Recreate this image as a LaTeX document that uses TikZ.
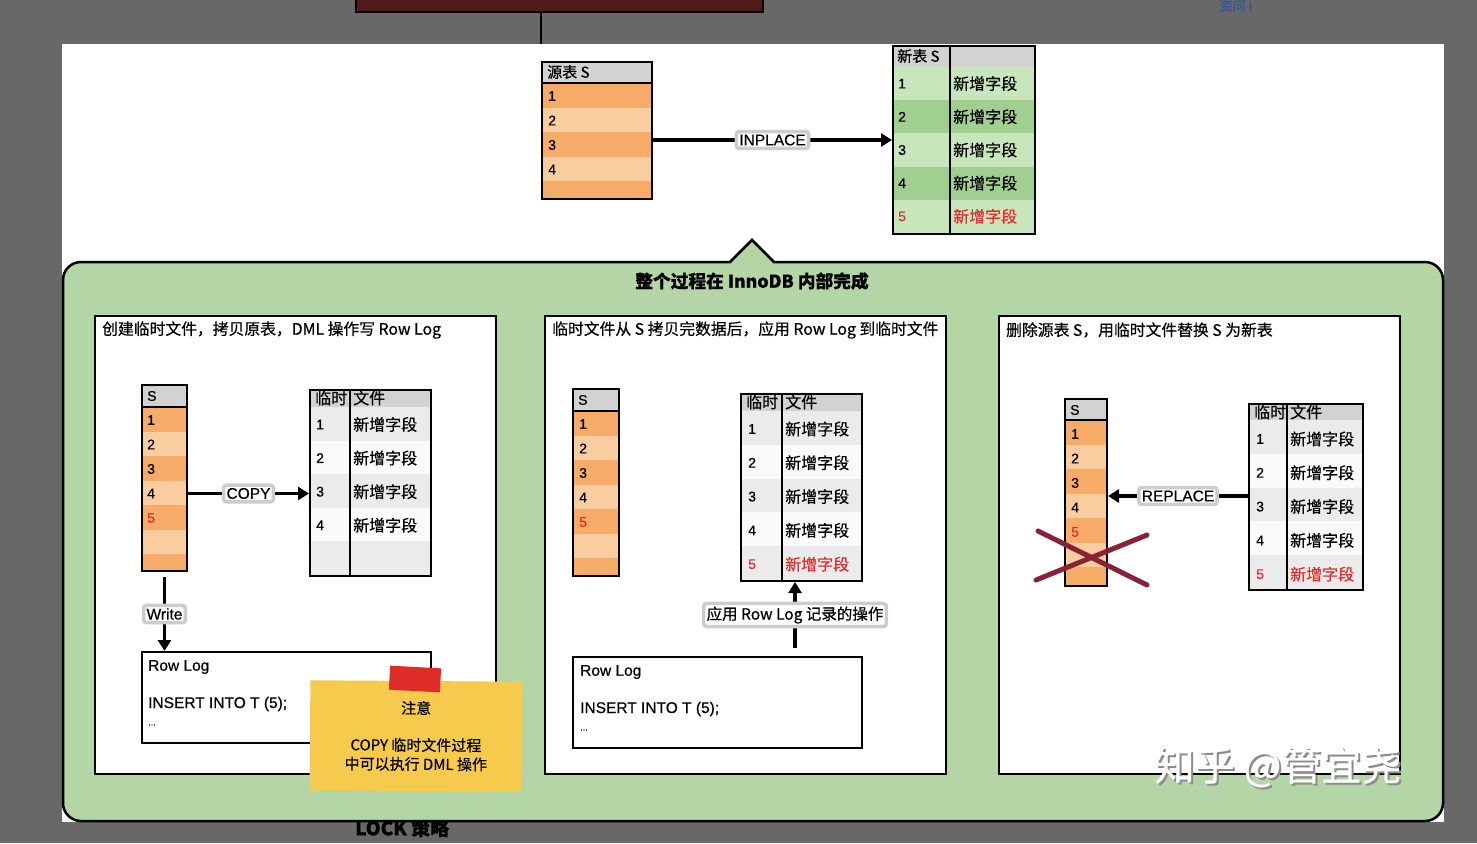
\documentclass[tikz,border=0pt]{standalone}
\usepackage{fontspec}
\setmainfont{Noto Sans CJK SC}[FakeBold=0.5]
\newfontfamily\latinfont{Liberation Sans}[FakeBold=0.5]
\usetikzlibrary{arrows.meta,positioning,calc}

\definecolor{bggrey}{RGB}{104,104,104}
\definecolor{ordk}{RGB}{246,172,104}
\definecolor{orlt}{RGB}{249,205,160}
\definecolor{hdgrey}{RGB}{210,210,210}
\definecolor{gnlt}{RGB}{200,230,188}
\definecolor{gndk}{RGB}{160,207,143}
\definecolor{panelgn}{RGB}{180,214,166}
\definecolor{rowgrey}{RGB}{235,235,235}
\definecolor{rowwhite}{RGB}{250,250,250}
\definecolor{noteyel}{RGB}{246,202,76}
\definecolor{tapered}{RGB}{222,45,40}
\definecolor{crossred}{RGB}{135,35,55}
\definecolor{darkred}{RGB}{82,26,26}
\definecolor{newred}{RGB}{225,45,45}
\definecolor{linkblue}{RGB}{45,85,165}

\begin{document}
\begin{tikzpicture}[x=1pt, y=-1pt,
  tbl/.style={draw, line width=2pt, anchor=north west, inner sep=0pt},
  cell/.style={anchor=west, inner sep=0pt, font=\latinfont\fontsize{14}{16}\selectfont},
  field/.style={anchor=west, inner sep=0pt, font=\fontsize{16}{18}\selectfont},
  tag/.style={draw=black!20, fill=white, rounded corners=3pt, inner sep=3pt, font=\latinfont\fontsize{15.5}{17}\selectfont},
  tagcjk/.style={tag, font=\fontsize{15.5}{17}\selectfont},
  stage/.style={draw, line width=2pt, fill=white, anchor=north west, inner sep=0pt, minimum width=401, minimum height=458},
  stagetitle/.style={anchor=west, inner sep=0pt, font=\fontsize{15.8}{17}\selectfont},
  logbox/.style={draw, line width=2pt, fill=white, anchor=north west, inner sep=0pt, minimum width=289, minimum height=91},
  logtext/.style={anchor=west, inner sep=0pt, font=\latinfont\fontsize{15.5}{17}\selectfont},
  bigarrow/.style={line width=3.5pt, -{Triangle[length=11pt,width=13pt]}},
]
\useasboundingbox (0,0) rectangle (1477,843);
% 截图背景
\fill[bggrey] (0,0) rectangle (1477,843);
\node[anchor=west, inner sep=0pt, font=\bfseries\fontsize{19}{21}\selectfont] (lock) at (355,828) {LOCK 策略};
\node[inner sep=0pt, text=linkblue, font=\fontsize{13}{15}\selectfont] (ask) at (1236,6) {资问 I};
\fill[white] (62,44) rectangle (1444,822);
\node[draw, line width=1.5pt, fill=darkred, anchor=south west, minimum width=407, minimum height=30, inner sep=0pt] (topbox) at (355,13) {};
\coordinate (topend) at (541,44);
\draw[line width=2.5pt] (topbox.south -| topend) -- (topend);

% 源表 S
\fill[ordk] (541,83) rectangle (651,198);
\foreach \r in {1,3} \fill[orlt] (541,{83+24.5*\r}) rectangle (651,{83+24.5*(\r+1)});
\fill[hdgrey] (541,61) rectangle (651,83);
\draw[line width=1.5pt] (541,83) -- (651,83);
\node[tbl, minimum width=110, minimum height=137] (srcS) at (541,61) {};
\node[field, font=\fontsize{15}{17}\selectfont] at (547,72) {源表 S};
\foreach \n in {1,...,4} \node[cell] (srcS-\n) at (548,{96+24.5*(\n-1)}) {\n};

% 新表 S
\foreach \r/\c in {0/gnlt,1/gndk,2/gnlt,3/gndk,4/gnlt} \fill[\c] (892,{67+33.2*\r}) rectangle (1034,{67+33.2*(\r+1)});
\fill[hdgrey] (892,45) rectangle (1034,67);
\node[tbl, minimum width=142, minimum height=188] (newS) at (892,45) {};
\draw[line width=2pt] (950,45) -- (950,233);
\node[field, font=\fontsize{15}{17}\selectfont] at (897,56) {新表 S};
\foreach \n/\c in {1/black,2/black,3/black,4/black,5/newred} {
  \node[cell, text=\c] (newS-\n) at (898,{83.6+33.2*(\n-1)}) {\n};
  \node[field, text=\c] at (953,{83.6+33.2*(\n-1)}) {新增字段};
}
\draw[bigarrow] (srcS.east |- newS.west) -- node[tag] {INPLACE} (newS.west);

% InnoDB 内部
\draw[line width=2.5pt, fill=panelgn, rounded corners=18pt] (63,500) -- (63,262) -- (600,262) [sharp corners] -- (730,262) -- (752,240) -- (774,262) -- (900,262) [rounded corners=18pt] -- (1443,262) -- (1443,821) -- (63,821) -- cycle;
\node[font=\bfseries\fontsize{17.7}{19}\selectfont] (title) at (752,281) {整个过程在 InnoDB 内部完成};

% 阶段一
\node[stage] (stageA) at (94,315) {};
\node[stagetitle] at ($(stageA.north west)+(8,15)$) {创建临时文件，拷贝原表，DML 操作写 Row Log};
\fill[ordk] (141,407) rectangle (186,570);
\foreach \r in {1,3,5} \fill[orlt] (141,{407+24.5*\r}) rectangle (186,{407+24.5*(\r+1)});
\fill[hdgrey] (141,384) rectangle (186,407);
\draw[line width=1.5pt] (141,407) -- (186,407);
\node[tbl, minimum width=45, minimum height=186] (sA) at (141,384) {};
\node[cell] at (147,396) {S};
\foreach \n/\c in {1/black,2/black,3/black,4/black,5/newred} \node[cell, text=\c] (sA-\n) at (147,{420+24.5*(\n-1)}) {\n};
\fill[rowgrey] (309,407) rectangle (430,575);
\foreach \r in {1,3} \fill[rowwhite] (309,{407+33.6*\r}) rectangle (430,{407+33.6*(\r+1)});
\fill[hdgrey] (309,389) rectangle (430,407);
\node[tbl, minimum width=121, minimum height=186] (tA) at (309,389) {};
\draw[line width=2pt] (350,389) -- (350,575);
\node[field] at (315,398) {临时};
\node[field] at (353,398) {文件};
\foreach \n in {1,...,4} {
  \node[cell] (tA-\n) at (316,{424.5+33.6*(\n-1)}) {\n};
  \node[field] at (353,{424.5+33.6*(\n-1)}) {新增字段};
}
\draw[bigarrow] (sA.east |- sA-4) -- node[tag] {COPY} (tA.west |- sA-4);
\node[logbox] (logA) at (141,651) {};
\node[logtext] at ($(logA.north west)+(7,16)$) {Row Log};
\node[logtext] at ($(logA.north west)+(7,53)$) {INSERT INTO T (5);};
\node[logtext, font=\latinfont\fontsize{9}{10}\selectfont] at ($(logA.north west)+(7,74)$) {...};
\draw[bigarrow] ([yshift=-5pt]sA.south) -- node[tag] {Write} (logA.north -| sA.south);
% 注意便签
\node[fill=noteyel, rotate=-0.4, minimum width=212, minimum height=110, inner sep=0pt, align=center, font=\fontsize{15}{19}\selectfont] (noteA) at (416,736) {注意\\[18pt]COPY 临时文件过程\\中可以执行 DML 操作};
\node[fill=tapered, rotate=-3, minimum width=51, minimum height=24, inner sep=0pt] (tapeA) at (415,679) {};

% 阶段二
\node[stage] (stageB) at (544,315) {};
\node[stagetitle] at ($(stageB.north west)+(8,15)$) {临时文件从 S 拷贝完数据后，应用 Row Log 到临时文件};
\fill[ordk] (572,411) rectangle (618,575);
\foreach \r in {1,3,5} \fill[orlt] (572,{411+24.5*\r}) rectangle (618,{411+24.5*(\r+1)});
\fill[hdgrey] (572,388) rectangle (618,411);
\draw[line width=1.5pt] (572,411) -- (618,411);
\node[tbl, minimum width=46, minimum height=187] (sB) at (572,388) {};
\node[cell] at (578,400) {S};
\foreach \n/\c in {1/black,2/black,3/black,4/black,5/newred} \node[cell, text=\c] (sB-\n) at (579,{424+24.5*(\n-1)}) {\n};
\fill[rowgrey] (740,411) rectangle (861,580);
\foreach \r in {1,3} \fill[rowwhite] (740,{411+33.8*\r}) rectangle (861,{411+33.8*(\r+1)});
\fill[hdgrey] (740,393) rectangle (861,411);
\node[tbl, minimum width=121, minimum height=187] (tB) at (740,393) {};
\draw[line width=2pt] (782,393) -- (782,580);
\node[field] at (746,402) {临时};
\node[field] at (785,402) {文件};
\foreach \n/\c in {1/black,2/black,3/black,4/black,5/newred} {
  \node[cell, text=\c] (tB-\n) at (748,{429+33.8*(\n-1)}) {\n};
  \node[field, text=\c] at (785,{429+33.8*(\n-1)}) {新增字段};
}
\node[logbox] (logB) at (572,656) {};
\node[logtext] at ($(logB.north west)+(8,16)$) {Row Log};
\node[logtext] at ($(logB.north west)+(8,53)$) {INSERT INTO T (5);};
\node[logtext, font=\latinfont\fontsize{9}{10}\selectfont] at ($(logB.north west)+(8,74)$) {...};
\coordinate (upB) at (795,648);
\draw[bigarrow] (upB) -- node[tagcjk] {应用 Row Log 记录的操作} (upB |- tB.south);

% 阶段三
\node[stage] (stageC) at (998,315) {};
\node[stagetitle] at ($(stageC.north west)+(8,15)$) {删除源表 S，用临时文件替换 S 为新表};
\fill[ordk] (1064,420) rectangle (1106,585);
\foreach \r in {1,3,5} \fill[orlt] (1064,{420+24.5*\r}) rectangle (1106,{420+24.5*(\r+1)});
\fill[hdgrey] (1064,398) rectangle (1106,420);
\draw[line width=1.5pt] (1064,420) -- (1106,420);
\node[tbl, minimum width=42, minimum height=187] (sC) at (1064,398) {};
\node[cell] at (1070,410) {S};
\foreach \n/\c in {1/black,2/black,3/black,4/black,5/newred} \node[cell, text=\c] (sC-\n) at (1071,{434+24.5*(\n-1)}) {\n};
\fill[rowgrey] (1248,420) rectangle (1362,589);
\foreach \r in {1,3} \fill[rowwhite] (1248,{420+33.8*\r}) rectangle (1362,{420+33.8*(\r+1)});
\fill[hdgrey] (1248,403) rectangle (1362,420);
\node[tbl, minimum width=114, minimum height=186] (tC) at (1248,403) {};
\draw[line width=2pt] (1287,403) -- (1287,589);
\node[field] at (1254,412) {临时};
\node[field] at (1290,412) {文件};
\foreach \n/\c in {1/black,2/black,3/black,4/black,5/newred} {
  \node[cell, text=\c] (tC-\n) at (1256,{439+33.8*(\n-1)}) {\n};
  \node[field, text=\c] at (1290,{439+33.8*(\n-1)}) {新增字段};
}
\coordinate (repC) at (1248,496);
\draw[bigarrow] (repC) -- node[tag] {REPLACE} (sC.east |- repC);
% 删除 S
\draw[line width=5pt, crossred, line cap=round] (1038,531) -- (1147,585);
\draw[line width=5pt, crossred, line cap=round] (1036,580) -- (1147,535);

% 水印
\node[text=black!45, font=\fontsize{40}{42}\selectfont] (markshadow) at (1280,769) {知乎 @管宜尧};
\node[text=white, font=\fontsize{40}{42}\selectfont] (mark) at (1278,767) {知乎 @管宜尧};
\end{tikzpicture}
\end{document}
